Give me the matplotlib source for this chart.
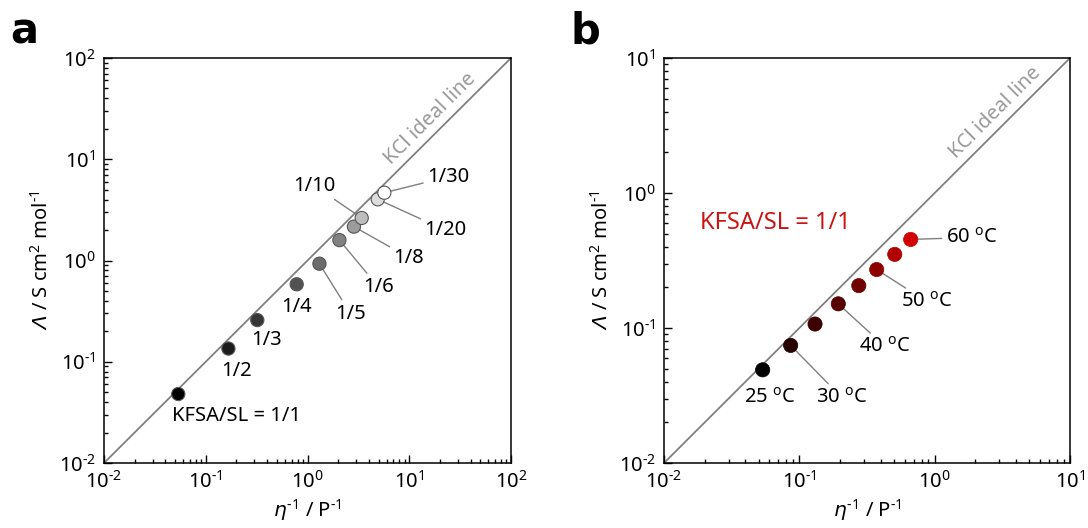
import numpy as np
import matplotlib.pyplot as plt
from matplotlib.ticker import FuncFormatter

plt.rcParams['font.family'] = ['Noto Sans', 'DejaVu Sans']
plt.rcParams['mathtext.fontset'] = 'custom'
plt.rcParams['mathtext.rm'] = 'Noto Sans'
plt.rcParams['mathtext.it'] = 'DejaVu Sans:italic'
plt.rcParams['mathtext.cal'] = 'DejaVu Sans:italic'
plt.rcParams['font.size'] = 14.5

# panel a: KFSA/SL molar ratios at 25 C
ratio_labels = ['1/1', '1/2', '1/3', '1/4', '1/5', '1/6', '1/8', '1/10', '1/20', '1/30']
ratio_fluidity = [0.0537, 0.167, 0.321, 0.783, 1.31, 2.06, 2.86, 3.41, 4.90, 5.69]
ratio_cond = [0.048, 0.135, 0.258, 0.582, 0.93, 1.59, 2.16, 2.63, 4.02, 4.67]
ratio_colors = ['#000000', '#1c1c1c', '#363636', '#525252', '#6c6c6c', '#828282',
                '#9c9c9c', '#bdbdbd', '#dcdcdc', '#ffffff']

# panel b: KFSA/SL = 1/1 at several temperatures
temp_labels = ['25', '30', '35', '40', '45', '50', '55', '60']
temp_fluidity = [0.0536, 0.0863, 0.1306, 0.194, 0.275, 0.373, 0.507, 0.665]
temp_cond = [0.049, 0.0743, 0.107, 0.151, 0.206, 0.271, 0.351, 0.453]
temp_colors = ['#000000', '#260000', '#3d0000', '#560000', '#700000', '#8c0000',
               '#b00000', '#d20000']

# label offsets in pixels (dx, dy), leader line yes/no
ratio_offsets = [(-6, -22), (8, -22), (9, -20), (0, -23), (31, -50), (39, -47),
                 (55, -31), (-47, 32), (68, -31), (64, 16)]
ratio_leader = [False, False, False, False, True, True, True, True, True, True]
temp_offsets = {'25': (7, -28), '30': (51, -52), '40': (47, -43), '50': (50, -32), '60': (61, 2)}
temp_leader = {'25': False, '30': True, '40': True, '50': True, '60': True}

fig = plt.figure(figsize=(10.88, 5.28), dpi=100)
axa = fig.add_axes([104/1088, 65/528, 407/1088, 405/528])
axb = fig.add_axes([664/1088, 65/528, 406/1088, 405/528])

line_col = '#808080'
lead = dict(arrowstyle='-', color=line_col, lw=1, shrinkA=1, shrinkB=0)

def dec(v, pos):
    return r'10$^{\text{%d}}$' % int(round(np.log10(v)))

def style(ax, lo, hi):
    ax.set_xscale('log')
    ax.set_yscale('log')
    ax.set_xlim(lo, hi)
    ax.set_ylim(lo, hi)
    ax.xaxis.set_major_formatter(FuncFormatter(dec))
    ax.yaxis.set_major_formatter(FuncFormatter(dec))
    ax.plot([lo, hi], [lo, hi], color=line_col, lw=1.3, zorder=1)
    ax.tick_params(which='both', direction='in', top=False, right=False, width=1)
    ax.tick_params(which='major', length=6, pad=6)
    ax.tick_params(which='minor', length=3)
    for s in ax.spines.values():
        s.set_linewidth(1.1)
    ax.set_xlabel(r'$\mathit{\eta}^{\text{-1}}$ / P$^{\text{-1}}$', labelpad=3)
    ax.set_ylabel(r'$\mathcal{\Lambda}$ / S cm$^{2}$ mol$^{\text{-1}}$', labelpad=4)

# ---- panel a
style(axa, 1e-2, 1e2)
axa.scatter(ratio_fluidity, ratio_cond, s=90, c=ratio_colors, edgecolors='#555555',
            linewidths=0.8, zorder=5)
for i, lab in enumerate(ratio_labels):
    text = 'KFSA/SL = 1/1' if i == 0 else lab
    axa.annotate(text, (ratio_fluidity[i], ratio_cond[i]), xytext=ratio_offsets[i],
                 textcoords='offset pixels', ha='left' if i == 0 else 'center', va='center',
                 arrowprops=lead if ratio_leader[i] else None, zorder=4)
axa.annotate('KCl ideal line', (10**1.3, 10**1.3), xytext=(-10, 10), textcoords='offset pixels',
             rotation=45, rotation_mode='anchor', ha='center', va='center', color='#999999')

# ---- panel b
style(axb, 1e-2, 1e1)
axb.scatter(temp_fluidity, temp_cond, s=105, c=temp_colors, edgecolors=temp_colors,
            linewidths=0.5, zorder=5)
for i, lab in enumerate(temp_labels):
    if lab not in temp_offsets:
        continue
    axb.annotate(lab + r' $^{\mathregular{o}}$C', (temp_fluidity[i], temp_cond[i]),
                 xytext=temp_offsets[lab], textcoords='offset pixels', ha='center', va='center',
                 arrowprops=lead if temp_leader[lab] else None, zorder=4)
axb.annotate('KCl ideal line', (10**0.52, 10**0.52), xytext=(-10, 10), textcoords='offset pixels',
             rotation=45, rotation_mode='anchor', ha='center', va='center', color='#999999')
fig.text(700/1088, 1 - 223/528, 'KFSA/SL = 1/1', ha='left', va='center',
         color='#cc1414', fontsize=17)

fig.text(10/1088, 1 - 43/528, 'a', fontsize=30, fontweight='bold', va='baseline',
         family='DejaVu Sans')
fig.text(571/1088, 1 - 43/528, 'b', fontsize=30, fontweight='bold', va='baseline',
         family='DejaVu Sans')

fig.savefig('out.png', dpi=100)
